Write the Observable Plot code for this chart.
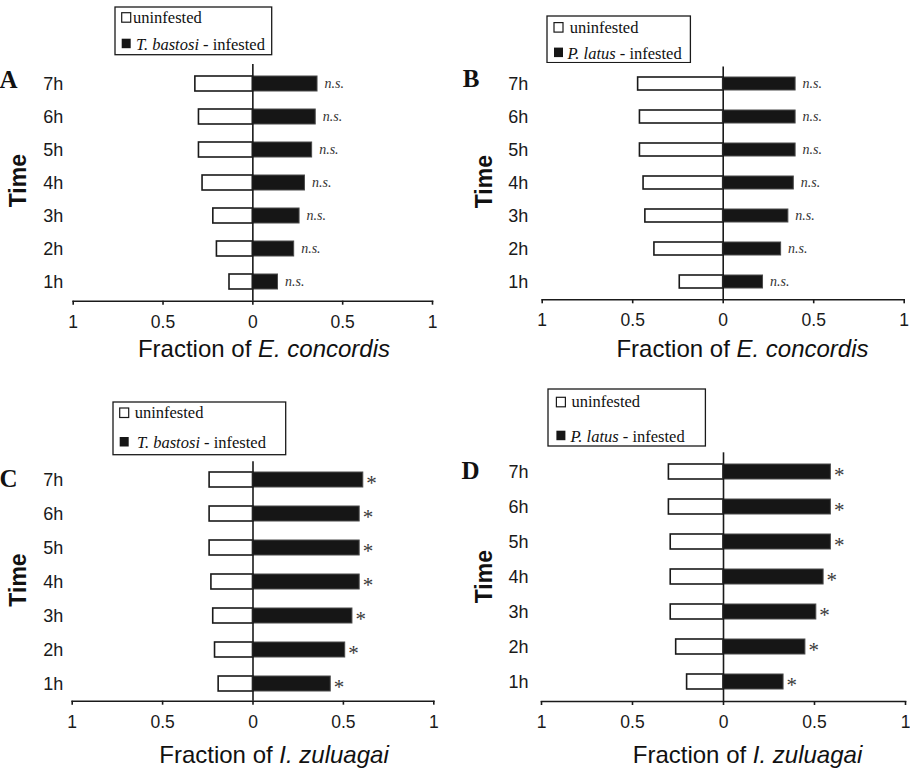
<!DOCTYPE html>
<html>
<head>
<meta charset="utf-8">
<script src="https://cdn.jsdelivr.net/npm/d3@7"></script>
<script src="https://cdn.jsdelivr.net/npm/@observablehq/plot@0.6"></script>
<style>
  html, body { margin: 0; padding: 0; background: white; }
  #fig { position: relative; width: 910px; height: 771px; background: white; overflow: hidden; }
  #fig > svg { position: absolute; }
</style>
</head>
<body>
<div id="fig"></div>
<script>
// ---- data ----
const times = ["7h", "6h", "5h", "4h", "3h", "2h", "1h"];
const xTicks = [-1, -0.5, 0, 0.5, 1];

const aUninfested = [0.32, 0.30, 0.30, 0.28, 0.22, 0.20, 0.13];
const aInfested   = [0.36, 0.35, 0.33, 0.29, 0.26, 0.23, 0.14];
const bUninfested = [0.47, 0.46, 0.46, 0.44, 0.43, 0.38, 0.24];
const bInfested   = [0.40, 0.40, 0.40, 0.39, 0.36, 0.32, 0.22];
const cUninfested = [0.24, 0.24, 0.24, 0.23, 0.22, 0.21, 0.19];
const cInfested   = [0.61, 0.59, 0.59, 0.59, 0.55, 0.51, 0.43];
const dUninfested = [0.30, 0.30, 0.29, 0.29, 0.29, 0.26, 0.20];
const dInfested   = [0.59, 0.59, 0.59, 0.55, 0.51, 0.45, 0.33];

const aSignif = ["n.s.", "n.s.", "n.s.", "n.s.", "n.s.", "n.s.", "n.s."];
const bSignif = ["n.s.", "n.s.", "n.s.", "n.s.", "n.s.", "n.s.", "n.s."];
const cSignif = ["*", "*", "*", "*", "*", "*", "*"];
const dSignif = ["*", "*", "*", "*", "*", "*", "*"];

const panels = [
  {letter: "A", un: aUninfested, inf: aInfested, sig: aSignif, species: "E. concordis", mite: "T. bastosi",
   left: 0, top: 0, h: 385, mL: 72.7, mR: 23, mT: 64, mB: 84.3, pad: 0.56, yPad: 10,
   letterX: 8.5, letterY: 88.3, timeX: 26, timeY: 180.7, titleX: 264, titleY: 356.7,
   leg: {x: 115, y: 7.3, w: 156.7, h: 47.7, r1: 15.7, r2: 42.7, sw: 6.7, tx: 18, tx2: 21}},
  {letter: "B", un: bUninfested, inf: bInfested, sig: bSignif, species: "E. concordis", mite: "P. latus",
   left: 455, top: 0, h: 385, mL: 86.7, mR: 6.3, mT: 66.5, mB: 85.7, pad: 0.6, yPad: 14,
   letterX: 16.2, letterY: 86.7, timeX: 37.3, timeY: 181.7, titleX: 287.5, titleY: 356.7,
   leg: {x: 547.3, y: 15.7, w: 143.4, h: 46.6, r1: 16.6, r2: 42.6, sw: 7, tx: 22.7, tx2: 20.4}},
  {letter: "C", un: cUninfested, inf: cInfested, sig: cSignif, species: "I. zuluagai", mite: "T. bastosi",
   left: 0, top: 385, h: 386, mL: 71.7, mR: 21.7, mT: 76.3, mB: 70.3, pad: 0.57, yPad: 9,
   letterX: 8.5, letterY: 102.3, timeX: 26, timeY: 195, titleX: 274, titleY: 378.3,
   leg: {x: 113.3, y: 402.3, w: 172.7, h: 52.7, r1: 16, r2: 46, sw: 6.7, tx: 21.7, tx2: 24}},
  {letter: "D", un: dUninfested, inf: dInfested, sig: dSignif, species: "I. zuluagai", mite: "P. latus",
   left: 455, top: 385, h: 386, mL: 86, mR: 5, mT: 67.3, mB: 70, pad: 0.56, yPad: 13,
   letterX: 15.5, letterY: 94.3, timeX: 37.3, timeY: 191.7, titleX: 292.5, titleY: 378,
   leg: {x: 548.3, y: 389, w: 157.4, h: 57, r1: 18.3, r2: 52.7, sw: 8.4, tx: 23.4, tx2: 22.4}}
];

const fig = document.getElementById("fig");
const sansFont = "'Liberation Sans', Arial, Helvetica, sans-serif";
const serifFont = "'Liberation Serif', 'Times New Roman', serif";

for (const p of panels) {
  const rows = times.map((t, i) => ({time: t, un: p.un[i], inf: p.inf[i], sig: p.sig[i]}));
  const star = p.sig[0] === "*";
  const svg = Plot.plot({
    width: 455,
    height: p.h,
    marginLeft: p.mL,
    marginRight: p.mR,
    marginTop: p.mT,
    marginBottom: p.mB,
    style: {fontFamily: sansFont, fontSize: "18px", color: "#1a1a1a", background: "white", overflow: "visible"},
    x: {domain: [-1, 1]},
    y: {domain: times, paddingInner: p.pad, paddingOuter: p.pad / 2},
    marks: [
      Plot.barX(rows, {y: "time", x1: d => -d.un, x2: 0, fill: "white", stroke: "#1a1a1a", strokeWidth: 1.6}),
      Plot.barX(rows, {y: "time", x1: 0, x2: "inf", fill: "#161616", stroke: "#4a4a4a", strokeWidth: 1}),
      Plot.ruleX([0], {stroke: "#1a1a1a", strokeWidth: 1.6}),
      Plot.frame({anchor: "bottom", stroke: "#1a1a1a", strokeWidth: 1.6}),
      Plot.axisX({ticks: xTicks, tickFormat: d => String(Math.abs(d)), tickSize: 4, tickPadding: 10,
                  strokeWidth: 1.6, label: null, fontSize: 17.5}),
      Plot.axisY({tickSize: 0, tickPadding: p.yPad, label: null, fontSize: 18}),
      Plot.text(rows, {y: "time", x: "inf", text: "sig", textAnchor: "start",
                       dx: star ? 3 : 7, dy: star ? 3.5 : 0,
                       fontFamily: serifFont, fontStyle: star ? "normal" : "italic",
                       fontSize: star ? 21 : 14, fill: star ? "#3a3a3a" : "#333"})
    ]
  });
  svg.style.left = p.left + "px";
  svg.style.top = p.top + "px";
  const s = d3.select(svg);
  // panel letter
  s.append("text").attr("x", p.letterX).attr("y", p.letterY)
    .attr("font-family", serifFont).attr("font-weight", "bold").attr("font-size", 25)
    .attr("fill", "#111").text(p.letter);
  // y title
  s.append("text").attr("transform", `translate(${p.timeX},${p.timeY}) rotate(-90)`)
    .attr("text-anchor", "middle").attr("font-family", sansFont).attr("font-weight", "bold")
    .attr("font-size", 23).attr("fill", "#111").text("Time");
  // x title
  const xt = s.append("text").attr("x", p.titleX).attr("y", p.titleY).attr("text-anchor", "middle")
    .attr("font-family", sansFont).attr("font-size", 24).attr("fill", "#111");
  xt.append("tspan").text("Fraction of ");
  xt.append("tspan").attr("font-style", "italic").text(p.species);
  fig.appendChild(svg);

  // legend
  const L = p.leg;
  const lg = d3.create("svg").attr("width", L.w + 2).attr("height", L.h + 2)
    .style("left", (L.x - 1) + "px").style("top", (L.y - 1) + "px");
  const g = lg.append("g").attr("transform", "translate(1,1)");
  g.append("rect").attr("x", 0).attr("y", 0).attr("width", L.w).attr("height", L.h)
    .attr("fill", "white").attr("stroke", "#1a1a1a").attr("stroke-width", 1.3);
  g.append("rect").attr("x", L.sw).attr("y", L.r1 - 10).attr("width", 9).attr("height", 9.5)
    .attr("fill", "white").attr("stroke", "#1a1a1a").attr("stroke-width", 1.2);
  g.append("rect").attr("x", L.sw).attr("y", L.r2 - 11).attr("width", 9).attr("height", 9.5)
    .attr("fill", "#161616");
  g.append("text").attr("x", L.tx).attr("y", L.r1).attr("font-family", serifFont)
    .attr("font-size", 16.5).attr("fill", "#111").text("uninfested");
  const t2 = g.append("text").attr("x", L.tx2).attr("y", L.r2).attr("font-family", serifFont)
    .attr("font-size", 16.5).attr("fill", "#111");
  t2.append("tspan").attr("font-style", "italic").text(p.mite);
  t2.append("tspan").text(" - infested");
  fig.appendChild(lg.node());
}
</script>
</body>
</html>
